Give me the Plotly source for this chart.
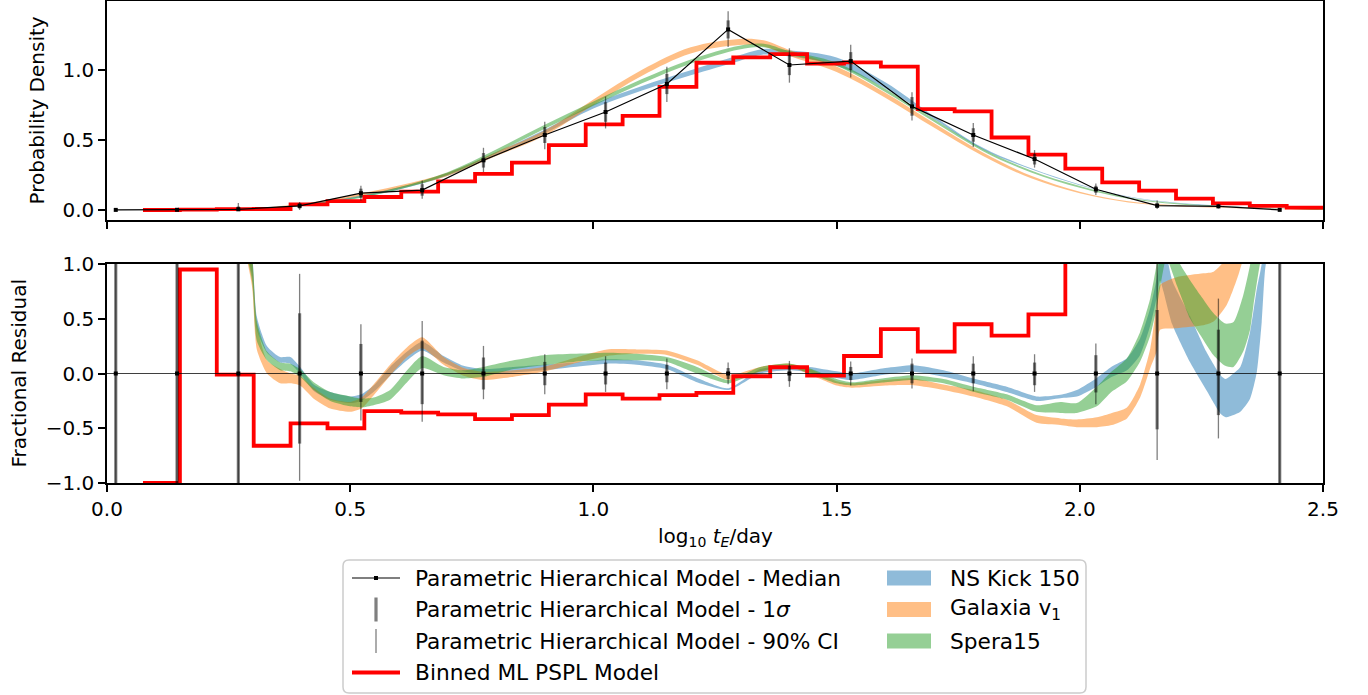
import plotly.graph_objects as go

# ------------------------------------------------------------------
# Parametric hierarchical model: median and credible intervals
# (x in log10 tE/day)
# ------------------------------------------------------------------
x_pts = [0.018, 0.144, 0.270, 0.396, 0.522, 0.648, 0.774, 0.900, 1.025, 1.151,
         1.277, 1.403, 1.529, 1.655, 1.781, 1.907, 2.033, 2.159, 2.285, 2.411]
median = [0.0008, 0.0015, 0.005, 0.030, 0.120, 0.142, 0.355, 0.536, 0.700, 0.900,
          1.290, 1.036, 1.064, 0.740, 0.536, 0.364, 0.148, 0.031, 0.026, 0.001]
# fractional bounds relative to the median
sig1_lo = [-1.0, -1.0, -1.0, -0.64, -0.26, -0.28, -0.146, -0.107, -0.10, -0.08,
           -0.05, -0.07, -0.06, -0.09, -0.09, -0.107, -0.173, -0.51, -0.38, -1.0]
sig1_hi = [4.0, 4.0, 4.0, 0.55, 0.27, 0.30, 0.146, 0.106, 0.10, 0.08,
           0.05, 0.07, 0.06, 0.09, 0.09, 0.10, 0.167, 0.58, 0.40, 4.0]
ci90_lo = [-1.0, -1.0, -1.0, -0.98, -0.43, -0.44, -0.235, -0.19, -0.168, -0.143,
           -0.098, -0.122, -0.11, -0.137, -0.161, -0.168, -0.28, -0.79, -0.593, -1.0]
ci90_hi = [9.0, 9.0, 9.0, 0.91, 0.45, 0.48, 0.252, 0.176, 0.158, 0.137,
           0.10, 0.115, 0.11, 0.137, 0.158, 0.176, 0.274, 1.2, 0.684, 9.0]

# ------------------------------------------------------------------
# Binned maximum-likelihood PSPL model
# ------------------------------------------------------------------
bin_edges = [0.0740, 0.1499, 0.2257, 0.3016, 0.3774, 0.4533, 0.5291, 0.6050, 0.6808,
             0.7567, 0.8325, 0.9084, 0.9842, 1.0601, 1.1359, 1.2118, 1.2876, 1.3635,
             1.4393, 1.5152, 1.5910, 1.6669, 1.7427, 1.8186, 1.8944, 1.9703, 2.0461,
             2.1220, 2.1978, 2.2737, 2.3495, 2.4254, 2.5012]
binned_pdf = [0.0, 0.002, 0.006, 0.007, 0.040, 0.064, 0.093, 0.131, 0.205, 0.258,
              0.338, 0.463, 0.612, 0.672, 0.879, 1.052, 1.090, 1.113, 1.046, 1.055,
              1.024, 0.720, 0.705, 0.518, 0.395, 0.296, 0.198, 0.138, 0.081, 0.048,
              0.029, 0.017]
binned_resid = [-1.0, 0.95, -0.01, -0.66, -0.456, -0.50, -0.343, -0.358, -0.374, -0.417,
                -0.38, -0.285, -0.19, -0.23, -0.198, -0.177, -0.025, 0.057, -0.02, 0.16,
                0.405, 0.20, 0.45, 0.345, 0.54, 3.0, 3.5, 3.4, 2.6, 2.4, 2.9, 3.6]

# ------------------------------------------------------------------
# Population-synthesis models: probability density (centre, half width)
# ------------------------------------------------------------------
x_model = [0.25, 0.30, 0.40, 0.50, 0.60, 0.70, 0.80, 0.90, 1.00, 1.10, 1.20, 1.30, 1.35,
           1.40, 1.50, 1.60, 1.70, 1.80, 1.90, 2.00, 2.10, 2.20, 2.30, 2.40, 2.50]
nskick_pdf = [0.003, 0.008, 0.035, 0.085, 0.155, 0.255, 0.400, 0.560, 0.740, 0.870, 0.980,
              1.085, 1.130, 1.120, 1.060, 0.890, 0.660, 0.440, 0.295, 0.180, 0.095, 0.050,
              0.027, 0.013, 0.006]
nskick_hw = [0.001, 0.002, 0.004, 0.006, 0.008, 0.010, 0.012, 0.014, 0.015, 0.016, 0.018,
             0.020, 0.020, 0.022, 0.030, 0.022, 0.010, 0.006, 0.004, 0.003, 0.002, 0.002,
             0.002, 0.001, 0.001]
galaxia_pdf = [0.004, 0.010, 0.040, 0.095, 0.165, 0.255, 0.400, 0.550, 0.770, 0.980, 1.140,
               1.200, 1.190, 1.125, 1.005, 0.820, 0.605, 0.400, 0.235, 0.125, 0.058, 0.030,
               0.016, 0.008, 0.004]
galaxia_hw = [0.001, 0.002, 0.005, 0.008, 0.010, 0.012, 0.015, 0.018, 0.020, 0.021, 0.022,
              0.022, 0.022, 0.022, 0.020, 0.018, 0.016, 0.012, 0.009, 0.006, 0.004, 0.003,
              0.002, 0.001, 0.001]
spera_pdf = [0.003, 0.008, 0.033, 0.080, 0.155, 0.260, 0.420, 0.595, 0.760, 0.920, 1.060,
             1.160, 1.175, 1.125, 1.040, 0.855, 0.640, 0.430, 0.275, 0.165, 0.085, 0.045,
             0.025, 0.012, 0.005]
spera_hw = [0.001, 0.002, 0.004, 0.006, 0.008, 0.010, 0.012, 0.014, 0.015, 0.015, 0.015,
            0.014, 0.013, 0.013, 0.012, 0.012, 0.010, 0.008, 0.007, 0.006, 0.004, 0.003,
            0.002, 0.001, 0.001]

# ------------------------------------------------------------------
# Population-synthesis models: fractional residual bands (lower, upper)
# ------------------------------------------------------------------
nskick_rx = [0.270, 0.298, 0.308, 0.329, 0.356, 0.377, 0.397, 0.425, 0.459, 0.500, 0.523,
             0.548, 0.582, 0.617, 0.648, 0.692, 0.733, 0.774, 0.836, 0.897, 0.959, 1.028,
             1.089, 1.151, 1.213, 1.278, 1.343, 1.404, 1.445, 1.500, 1.531, 1.600, 1.658,
             1.720, 1.781, 1.850, 1.911, 1.960, 1.994, 2.035, 2.066, 2.097, 2.124, 2.145,
             2.158, 2.165, 2.172, 2.190, 2.227, 2.260, 2.290, 2.300, 2.316, 2.330, 2.350,
             2.364, 2.374, 2.381, 2.400]
nskick_rlo = [1.4, 0.90, 0.40, 0.19, 0.10, 0.09, 0.00, -0.16, -0.24, -0.27, -0.25,
              -0.17, -0.02, 0.12, 0.21, 0.10, 0.02, -0.01, 0.01, 0.03, 0.06, 0.09,
              0.08, 0.04, -0.08, -0.15, 0.00, 0.03, 0.01, -0.04, -0.06, -0.01, 0.015,
              -0.03, -0.09, -0.17, -0.25, -0.225, -0.21, -0.12, -0.03, 0.03, 0.17, 0.44,
              0.69, 0.85, 0.75, 0.45, 0.10, -0.15, -0.37, -0.40, -0.38, -0.35, -0.23,
              0.015, 0.47, 0.95, 1.5]
nskick_rhi = [1.8, 1.10, 0.52, 0.25, 0.15, 0.15, 0.06, -0.10, -0.17, -0.21, -0.19,
              -0.11, 0.06, 0.20, 0.29, 0.16, 0.07, 0.04, 0.06, 0.08, 0.10, 0.13,
              0.12, 0.08, -0.04, -0.135, 0.04, 0.07, 0.06, 0.02, 0.00, 0.05, 0.076,
              0.03, -0.045, -0.12, -0.21, -0.195, -0.15, -0.04, 0.064, 0.14, 0.32, 0.60,
              0.87, 1.10, 1.20, 0.85, 0.52, 0.20, -0.02, -0.05, 0.00, 0.06, 0.38,
              0.775, 1.0, 1.3, 2.0]

galaxia_rx = [0.270, 0.298, 0.308, 0.329, 0.356, 0.377, 0.397, 0.425, 0.459, 0.500, 0.523,
              0.548, 0.582, 0.617, 0.648, 0.692, 0.733, 0.774, 0.836, 0.897, 0.959, 1.028,
              1.089, 1.151, 1.213, 1.278, 1.343, 1.404, 1.445, 1.500, 1.531, 1.600, 1.658,
              1.720, 1.781, 1.850, 1.911, 1.960, 1.994, 2.035, 2.066, 2.097, 2.124, 2.145,
              2.158, 2.165, 2.199, 2.254, 2.275, 2.302, 2.326, 2.350]
galaxia_rlo = [1.4, 0.80, 0.22, 0.00, -0.09, -0.09, -0.11, -0.23, -0.32, -0.35, -0.32,
               -0.20, -0.02, 0.15, 0.23, 0.08, -0.02, -0.06, -0.03, 0.015, 0.09, 0.16,
               0.18, 0.17, 0.08, -0.06, 0.015, 0.06, -0.01, -0.11, -0.13, -0.11, -0.107,
               -0.15, -0.21, -0.30, -0.45, -0.47, -0.49, -0.49, -0.47, -0.41, -0.22, 0.05,
               0.20, 0.40, 0.414, 0.44, 0.474, 0.626, 0.90, 1.3]
galaxia_rhi = [1.8, 1.05, 0.45, 0.12, 0.04, 0.00, -0.02, -0.13, -0.23, -0.26, -0.22,
               -0.10, 0.08, 0.24, 0.33, 0.15, 0.05, 0.015, 0.03, 0.06, 0.14, 0.22,
               0.22, 0.21, 0.12, -0.015, 0.06, 0.09, 0.04, -0.07, -0.09, -0.06, -0.045,
               -0.10, -0.15, -0.24, -0.38, -0.41, -0.42, -0.40, -0.36, -0.31, -0.10, 0.23,
               0.63, 0.81, 0.88, 0.915, 0.93, 1.05, 1.2, 1.6]

spera_rx = [0.270, 0.298, 0.308, 0.329, 0.356, 0.377, 0.397, 0.425, 0.459, 0.500, 0.523,
            0.548, 0.582, 0.617, 0.648, 0.692, 0.733, 0.774, 0.836, 0.897, 0.959, 1.028,
            1.089, 1.151, 1.213, 1.278, 1.343, 1.404, 1.445, 1.500, 1.531, 1.600, 1.658,
            1.720, 1.781, 1.850, 1.911, 1.960, 1.994, 2.035, 2.066, 2.097, 2.124, 2.145,
            2.158, 2.165, 2.178, 2.200, 2.227, 2.248, 2.275, 2.299, 2.316, 2.336, 2.350,
            2.357, 2.370, 2.400]
spera_rlo = [1.4, 0.85, 0.30, 0.12, 0.03, 0.02, -0.03, -0.15, -0.25, -0.30, -0.31,
             -0.29, -0.24, -0.08, 0.05, -0.015, -0.045, -0.03, 0.04, 0.076, 0.106, 0.12,
             0.12, 0.106, 0.00, -0.09, 0.02, 0.06, 0.00, -0.09, -0.11, -0.08, -0.06,
             -0.09, -0.167, -0.24, -0.35, -0.36, -0.36, -0.30, -0.165, -0.07, 0.11, 0.35,
             0.60, 0.78, 1.05, 0.80, 0.50, 0.35, 0.167, 0.07, 0.06, 0.20, 0.40,
             0.62, 0.99, 1.6]
spera_rhi = [1.8, 1.10, 0.48, 0.20, 0.10, 0.09, 0.04, -0.08, -0.17, -0.21, -0.23,
             -0.22, -0.15, 0.03, 0.16, 0.06, 0.03, 0.06, 0.12, 0.167, 0.18, 0.19,
             0.18, 0.15, 0.06, -0.06, 0.06, 0.09, 0.045, -0.05, -0.08, -0.04, -0.015,
             -0.05, -0.12, -0.19, -0.29, -0.26, -0.27, -0.12, 0.02, 0.14, 0.38, 0.69,
             1.00, 1.20, 1.40, 1.05, 0.85, 0.715, 0.55, 0.456, 0.47, 0.715, 0.99,
             1.2, 1.4, 2.0]

# ------------------------------------------------------------------
# Styling
# ------------------------------------------------------------------
FONT = "DejaVu Sans"
TICK_SIZE = 20
LEGEND_SIZE = 21.7
BLUE = "rgba(31,119,180,0.5)"
ORANGE = "rgba(255,127,14,0.5)"
GREEN = "rgba(44,160,44,0.5)"
BAR = "rgba(0,0,0,0.5)"
RED = "#ff0000"

fig = go.Figure()


def band(xs, lo, hi, color, xa, ya, shape, smoothing=1.0):
    fig.add_trace(go.Scatter(
        x=list(xs) + list(xs)[::-1], y=list(hi) + list(lo)[::-1],
        fill="toself", fillcolor=color, mode="lines",
        line=dict(width=0, color=color, shape=shape, smoothing=smoothing),
        hoverinfo="skip", showlegend=False, xaxis=xa, yaxis=ya))


# ---- top panel: model density bands ----
for pdf, hw, col in [(nskick_pdf, nskick_hw, BLUE),
                     (galaxia_pdf, galaxia_hw, ORANGE),
                     (spera_pdf, spera_hw, GREEN)]:
    lo = [c - h for c, h in zip(pdf, hw)]
    hi = [c + h for c, h in zip(pdf, hw)]
    band(x_model, lo, hi, col, "x", "y", "spline")

# ---- bottom panel: residual bands ----
for rx, rlo, rhi, col in [(nskick_rx, nskick_rlo, nskick_rhi, BLUE),
                          (galaxia_rx, galaxia_rlo, galaxia_rhi, ORANGE),
                          (spera_rx, spera_rlo, spera_rhi, GREEN)]:
    band(rx, rlo, rhi, col, "x2", "y2", "spline", 0.6)

# ---- binned ML PSPL step model ----
fig.add_trace(go.Scatter(x=bin_edges, y=binned_pdf + [binned_pdf[-1]], mode="lines",
                         line=dict(color=RED, width=3.8, shape="hv"),
                         showlegend=False, xaxis="x", yaxis="y"))
fig.add_trace(go.Scatter(x=bin_edges, y=binned_resid + [binned_resid[-1]], mode="lines",
                         line=dict(color=RED, width=3.8, shape="hv"),
                         showlegend=False, xaxis="x2", yaxis="y2"))

# ---- hierarchical-model error bars ----
zero_resid = [m / m - 1.0 for m in median]
for lo_f, hi_f, thick in [(ci90_lo, ci90_hi, 1.3), (sig1_lo, sig1_hi, 3.2)]:
    up_abs = [m * h for m, h in zip(median, hi_f)]
    dn_abs = [-m * l for m, l in zip(median, lo_f)]
    fig.add_trace(go.Scatter(
        x=x_pts, y=median, mode="markers",
        marker=dict(size=1, color="rgba(0,0,0,0)"),
        error_y=dict(type="data", symmetric=False, array=up_abs, arrayminus=dn_abs,
                     thickness=thick, width=0, color=BAR),
        showlegend=False, xaxis="x", yaxis="y"))
    fig.add_trace(go.Scatter(
        x=x_pts, y=zero_resid, mode="markers",
        marker=dict(size=1, color="rgba(0,0,0,0)"),
        error_y=dict(type="data", symmetric=False, array=list(hi_f),
                     arrayminus=[-v for v in lo_f],
                     thickness=thick, width=0, color=BAR),
        showlegend=False, xaxis="x2", yaxis="y2"))

# ---- median ----
fig.add_trace(go.Scatter(x=x_pts, y=median, mode="lines+markers",
                         line=dict(color="black", width=1.2),
                         marker=dict(symbol="square", size=4, color="black"),
                         showlegend=False, xaxis="x", yaxis="y"))
fig.add_trace(go.Scatter(x=x_pts, y=zero_resid, mode="markers",
                         marker=dict(symbol="square", size=4, color="black"),
                         showlegend=False, xaxis="x2", yaxis="y2"))

# ------------------------------------------------------------------
# Axes
# ------------------------------------------------------------------
L, R, T, B = 107, 45, 1, 212
W, H = 1368, 695
plot_w = W - L - R
plot_h = H - T - B


def px_x(px):
    return (px - L) / plot_w


def px_y(py):
    return (H - B - py) / plot_h


axis_common = dict(showline=True, linewidth=1.5, linecolor="black", mirror=True,
                   ticks="outside", ticklen=7, tickwidth=1.5, tickcolor="black",
                   showgrid=False, zeroline=False, automargin=False,
                   tickfont=dict(family=FONT, size=TICK_SIZE, color="black"))

x_ticks = [0.0, 0.5, 1.0, 1.5, 2.0, 2.5]
x_ticktext = ["0.0", "0.5", "1.0", "1.5", "2.0", "2.5"]

fig.update_layout(
    width=W, height=H,
    margin=dict(l=L, r=R, t=T, b=B, pad=0, autoexpand=False),
    paper_bgcolor="white", plot_bgcolor="white",
    font=dict(family=FONT, color="black"),
    showlegend=False,
    xaxis=dict(domain=[0, 1], range=[0, 2.5], anchor="y", tickvals=x_ticks,
               showticklabels=False, **axis_common),
    yaxis=dict(domain=[px_y(220), 1.0], range=[-0.0714, 1.493], anchor="x",
               tickvals=[0.0, 0.5, 1.0], ticktext=["0.0", "0.5", "1.0"], **axis_common),
    xaxis2=dict(domain=[0, 1], range=[0, 2.5], anchor="y2", tickvals=x_ticks,
                ticktext=x_ticktext, **axis_common),
    yaxis2=dict(domain=[0, px_y(264)], range=[-1.0, 1.0], anchor="x2",
                tickvals=[-1.0, -0.5, 0.0, 0.5, 1.0],
                ticktext=["\u22121.0", "\u22120.5", "0.0", "0.5", "1.0"], **axis_common),
)

# zero reference line of the residual panel
fig.add_shape(type="line", xref="x2 domain", yref="y2", x0=0, x1=1, y0=0, y1=0,
              line=dict(color="black", width=1.2), opacity=0.75)

# axis titles
ann = []
ann.append(dict(text="Probability Density", x=px_x(37), y=px_y(110.5), xref="paper",
                yref="paper", showarrow=False, textangle=-90, xanchor="center",
                yanchor="middle", font=dict(family=FONT, size=TICK_SIZE)))
ann.append(dict(text="Fractional Residual", x=px_x(18), y=px_y(373.5), xref="paper",
                yref="paper", showarrow=False, textangle=-90, xanchor="center",
                yanchor="middle", font=dict(family=FONT, size=TICK_SIZE)))
ann.append(dict(text="log<sub>10</sub> <i>t</i><sub><i>E</i></sub>/day", x=px_x(715),
                y=px_y(537), xref="paper", yref="paper", showarrow=False,
                xanchor="center", yanchor="middle", font=dict(family=FONT, size=TICK_SIZE)))

# ------------------------------------------------------------------
# Legend (two columns, framed)
# ------------------------------------------------------------------
shapes = []
fx0, fx1, fy0, fy1, rad = 343, 1086, 560, 693, 6


def P(px, py):
    return f"{px_x(px):.5f},{px_y(py):.5f}"


frame = (f"M{P(fx0 + rad, fy0)} L{P(fx1 - rad, fy0)} Q{P(fx1, fy0)} {P(fx1, fy0 + rad)} "
         f"L{P(fx1, fy1 - rad)} Q{P(fx1, fy1)} {P(fx1 - rad, fy1)} "
         f"L{P(fx0 + rad, fy1)} Q{P(fx0, fy1)} {P(fx0, fy1 - rad)} "
         f"L{P(fx0, fy0 + rad)} Q{P(fx0, fy0)} {P(fx0 + rad, fy0)} Z")
shapes.append(dict(type="path", path=frame, xref="paper", yref="paper",
                   fillcolor="rgba(255,255,255,0.8)",
                   line=dict(color="#cccccc", width=1.5)))

rows = [578, 609.5, 641, 672.5]
hx0, hx1 = 352, 400
hxc = (hx0 + hx1) / 2
# median: line with square marker
shapes.append(dict(type="line", xref="paper", yref="paper", x0=px_x(hx0), x1=px_x(hx1),
                   y0=px_y(rows[0]), y1=px_y(rows[0]), line=dict(color="black", width=1.2)))
shapes.append(dict(type="rect", xref="paper", yref="paper", x0=px_x(hxc - 2), x1=px_x(hxc + 2),
                   y0=px_y(rows[0] - 2), y1=px_y(rows[0] + 2), fillcolor="black",
                   line=dict(width=0)))
# 1 sigma: thick bar
shapes.append(dict(type="line", xref="paper", yref="paper", x0=px_x(hxc), x1=px_x(hxc),
                   y0=px_y(rows[1] - 12), y1=px_y(rows[1] + 12),
                   line=dict(color=BAR, width=3.2)))
# 90% CI: thin bar
shapes.append(dict(type="line", xref="paper", yref="paper", x0=px_x(hxc), x1=px_x(hxc),
                   y0=px_y(rows[2] - 12), y1=px_y(rows[2] + 12),
                   line=dict(color=BAR, width=1.3)))
# binned model: red line
shapes.append(dict(type="line", xref="paper", yref="paper", x0=px_x(hx0), x1=px_x(hx1),
                   y0=px_y(rows[3]), y1=px_y(rows[3]), line=dict(color=RED, width=3.8)))
# model swatches
sx0, sx1 = 887, 931
for r, col in zip(rows[:3], [BLUE, ORANGE, GREEN]):
    shapes.append(dict(type="rect", xref="paper", yref="paper", x0=px_x(sx0), x1=px_x(sx1),
                       y0=px_y(r + 7.5), y1=px_y(r - 7.5), fillcolor=col, line=dict(width=0)))

left_labels = ["Parametric Hierarchical Model - Median",
               "Parametric Hierarchical Model - 1<i>\u03c3</i>",
               "Parametric Hierarchical Model - 90% CI",
               "Binned ML PSPL Model"]
right_labels = ["NS Kick 150", "Galaxia v<sub>1</sub>", "Spera15"]
for r, t in zip(rows, left_labels):
    ann.append(dict(text=t, x=px_x(413), y=px_y(r), xref="paper", yref="paper",
                    showarrow=False, xanchor="left", yanchor="middle",
                    font=dict(family=FONT, size=LEGEND_SIZE)))
for r, t in zip(rows, right_labels):
    ann.append(dict(text=t, x=px_x(948), y=px_y(r), xref="paper", yref="paper",
                    showarrow=False, xanchor="left", yanchor="middle",
                    font=dict(family=FONT, size=LEGEND_SIZE)))

fig.update_layout(annotations=ann)
for s in shapes:
    fig.add_shape(**s)

fig.write_html("out.html")
